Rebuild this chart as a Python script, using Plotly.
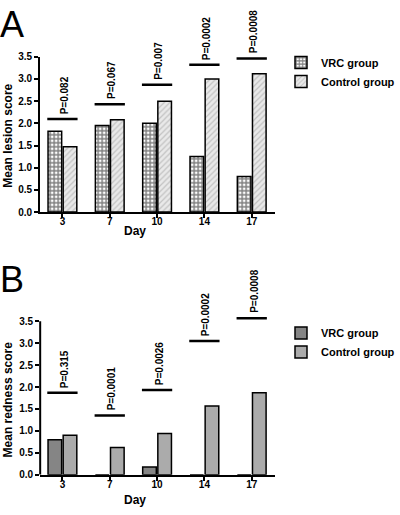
import plotly.graph_objects as go

days = ["3", "7", "10", "14", "17"]
lesion_vrc = [1.82, 1.95, 2.0, 1.25, 0.8]
lesion_ctrl = [1.47, 2.08, 2.5, 3.0, 3.12]
lesion_p = ["P=0.082", "P=0.067", "P=0.007", "P=0.0002", "P=0.0008"]
lesion_p_y = [2.1, 2.43, 2.87, 3.32, 3.46]

red_vrc = [0.8, 0.0, 0.18, 0.0, 0.0]
red_ctrl = [0.9, 0.62, 0.94, 1.57, 1.87]
red_p = ["P=0.315", "P=0.0001", "P=0.0026", "P=0.0002", "P=0.0008"]
red_p_y = [1.87, 1.35, 1.93, 3.05, 3.57]

yticks = [0, 0.5, 1.0, 1.5, 2.0, 2.5, 3.0, 3.5]

W, H = 400, 515
FONT = "Liberation Sans, Arial, sans-serif"

def py(px):
    return 1 - px / H

fig = go.Figure()
line = dict(color="black", width=1.5)
fig.add_trace(go.Bar(x=days, y=lesion_vrc, name="VRC group", xaxis="x", yaxis="y",
                     marker=dict(color="white", line=line,
                                 pattern=dict(shape="+", fgcolor="black", bgcolor="white", size=4, solidity=0.6)),
                     legend="legend"))
fig.add_trace(go.Bar(x=days, y=lesion_ctrl, name="Control group", xaxis="x", yaxis="y",
                     marker=dict(color="#e6e6e6", line=line,
                                 pattern=dict(shape="/", fgcolor="#999999", bgcolor="#e9e9e9", size=4, solidity=0.3)),
                     legend="legend"))
fig.add_trace(go.Bar(x=days, y=red_vrc, name="VRC group", xaxis="x2", yaxis="y2",
                     marker=dict(color="#858585", line=line), legend="legend2"))
fig.add_trace(go.Bar(x=days, y=red_ctrl, name="Control group", xaxis="x2", yaxis="y2",
                     marker=dict(color="#ababab", line=line), legend="legend2"))

xdom = [41 / W, 281 / W]
tickfont = dict(family=FONT, size=10, color="black", weight="bold")
common_x = dict(domain=xdom, type="category", range=[-0.47, 4.5], showline=True, linewidth=2,
                linecolor="black", ticks="outside", ticklen=4, tickwidth=1.5, tickcolor="black",
                tickfont=tickfont, showgrid=False, zeroline=False, ticklabelstandoff=-5)
common_y = dict(tickvals=yticks, tickformat=".1f", ticks="outside", ticklen=4, tickwidth=1.5,
                tickcolor="black", tickfont=tickfont, showgrid=False, zeroline=False)

legfont = dict(family=FONT, size=11, weight="bold", color="black")
fig.update_layout(
    width=W, height=H, margin=dict(l=0, r=0, t=0, b=0),
    paper_bgcolor="white", plot_bgcolor="white",
    barmode="group", bargap=0.36, bargroupgap=0.1,
    font=dict(family=FONT, color="black"),
    xaxis=dict(common_x, anchor="y"),
    yaxis=dict(common_y, domain=[py(211), py(52)], range=[0, 3.5], anchor="x",
               showline=True, linewidth=2, linecolor="black"),
    xaxis2=dict(common_x, anchor="y2"),
    yaxis2=dict(common_y, domain=[py(480), py(316)], range=[0, 3.65], anchor="x2", showline=False),
    legend=dict(x=287 / W, y=py(43), xanchor="left", yanchor="top", bgcolor="rgba(0,0,0,0)",
                font=legfont, tracegroupgap=0, itemwidth=30),
    legend2=dict(x=287 / W, y=py(320), xanchor="left", yanchor="top", bgcolor="rgba(0,0,0,0)",
                 font=legfont, tracegroupgap=0, itemwidth=30),
)

shapes = []
annotations = []
# y axis line for panel B (stops at 3.5)
shapes.append(dict(type="line", xref="x2 domain", yref="y2", x0=0, x1=0, y0=0, y1=3.5,
                   line=dict(color="black", width=2)))

for xa, ya, ps, pys in [("x", "y", lesion_p, lesion_p_y), ("x2", "y2", red_p, red_p_y)]:
    for i, (txt, yv) in enumerate(zip(ps, pys)):
        shapes.append(dict(type="line", xref=xa, yref=ya, x0=i - 0.32, x1=i + 0.32, y0=yv, y1=yv,
                           line=dict(color="black", width=2.5)))
        annotations.append(dict(xref=xa, yref=ya, x=i, y=yv, text=txt, textangle=-90, showarrow=False,
                                xanchor="center", yanchor="bottom", xshift=2, yshift=3,
                                font=dict(family=FONT, size=10, color="black", weight="bold")))

for ypx, title in [(230, "Day"), (506, "Day")]:
    annotations.append(dict(xref="paper", yref="paper", x=138 / W, y=py(ypx), text=title, showarrow=False,
                            xanchor="center", yanchor="middle",
                            font=dict(family=FONT, size=12, color="black", weight="bold")))
for ycen, title in [(133, "Mean lesion score"), (403, "Mean redness score")]:
    annotations.append(dict(xref="paper", yref="paper", x=8 / W, y=py(ycen), text=title, showarrow=False,
                            textangle=-90, xanchor="center", yanchor="middle",
                            font=dict(family=FONT, size=12, color="black", weight="bold")))
for ypx, letter in [(19, "A"), (280, "B")]:
    annotations.append(dict(xref="paper", yref="paper", x=12 / W, y=py(ypx), text=letter, showarrow=False,
                            xanchor="center", yanchor="middle",
                            font=dict(family=FONT, size=36, color="black")))

fig.update_layout(shapes=shapes, annotations=annotations)
# the browser's default 8px body margin would shift the figure; remove it
fig.write_html("out.html", config={"displayModeBar": False},
               post_script="document.body.style.margin='0';")
